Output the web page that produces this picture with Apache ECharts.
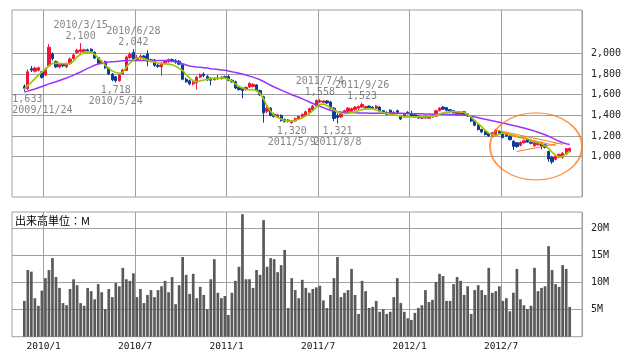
<!DOCTYPE html>
<html><head><meta charset="utf-8">
<script src="https://cdn.jsdelivr.net/npm/echarts@6/dist/echarts.min.js"></script>
<style>html,body{margin:0;padding:0;background:#fff}#c{width:638px;height:362px}</style>
</head><body><div id="c"></div>
<script>
// ---- data (weekly, first week = 2009/11/23) ----
const padBefore = 3, padAfter = 3;
const opens = [1680,1660,1852,1828,1838,1822,1790,1880,1995,1920,1868,1895,1870,1900,1950,2010,2020,2010,2035,2040,2010,1960,1905,1920,1860,1800,1775,1735,1800,1835,1960,2010,1940,1955,1975,1995,1925,1935,1885,1870,1905,1920,1940,1930,1925,1890,1750,1735,1705,1715,1770,1800,1775,1760,1745,1760,1755,1775,1775,1740,1725,1670,1660,1650,1675,1680,1695,1640,1580,1440,1470,1410,1385,1400,1360,1340,1330,1345,1365,1380,1400,1430,1455,1490,1530,1525,1540,1530,1470,1400,1385,1420,1440,1440,1455,1470,1480,1470,1490,1480,1468,1480,1445,1430,1450,1415,1445,1395,1385,1430,1420,1405,1395,1372,1390,1372,1385,1392,1445,1480,1475,1455,1445,1405,1410,1435,1415,1385,1350,1310,1265,1245,1225,1195,1215,1245,1228,1220,1195,1150,1135,1110,1135,1170,1140,1105,1115,1132,1115,1050,995,975,995,995,1025,1050];
const closes = [1662,1822,1838,1858,1860,1768,1850,2060,1950,1870,1895,1880,1895,1945,1985,2030,2035,2035,2025,2020,1955,1900,1925,1860,1800,1745,1735,1790,1840,1965,1990,1940,1960,1975,1950,1925,1940,1885,1875,1905,1925,1940,1925,1915,1895,1750,1725,1705,1720,1770,1795,1785,1745,1740,1760,1755,1770,1765,1740,1725,1665,1650,1640,1670,1710,1700,1640,1600,1425,1470,1400,1390,1405,1350,1340,1355,1345,1370,1390,1410,1435,1465,1490,1545,1540,1540,1520,1470,1370,1380,1425,1445,1470,1465,1480,1485,1505,1485,1475,1470,1490,1440,1425,1410,1430,1430,1430,1365,1415,1420,1395,1385,1375,1385,1375,1388,1395,1445,1468,1460,1450,1435,1425,1435,1430,1410,1395,1345,1305,1262,1240,1215,1200,1235,1258,1228,1185,1200,1165,1100,1098,1140,1155,1142,1130,1135,1130,1100,1090,978,950,1005,1022,1035,1078,1080];
const lows = [1633,1645,1820,1815,1826,1755,1782,1870,1930,1858,1855,1866,1858,1890,1940,1995,2005,2000,2005,2010,1945,1890,1895,1850,1790,1730,1718,1725,1790,1830,1945,1925,1925,1940,1940,1875,1915,1870,1860,1785,1895,1910,1915,1900,1885,1740,1715,1690,1690,1650,1760,1770,1735,1690,1738,1745,1748,1755,1730,1715,1655,1640,1565,1640,1665,1670,1630,1590,1330,1420,1390,1380,1375,1340,1330,1330,1320,1335,1360,1372,1390,1420,1440,1480,1520,1515,1510,1460,1345,1321,1375,1410,1430,1430,1445,1455,1470,1460,1465,1460,1460,1432,1415,1400,1420,1405,1420,1355,1378,1410,1388,1375,1365,1365,1368,1365,1378,1388,1440,1452,1440,1428,1418,1398,1400,1400,1385,1335,1295,1255,1230,1205,1192,1188,1208,1215,1178,1190,1158,1065,1088,1100,1128,1135,1120,1098,1108,1072,1080,952,930,965,985,980,1018,1042];
const highs = [1700,1845,1878,1870,1872,1832,1862,2090,2010,1930,1905,1905,1910,1960,2000,2045,2100,2045,2045,2050,2020,1965,1935,1930,1868,1810,1780,1800,1850,1980,2010,2042,1985,1990,1985,2030,1950,1945,1900,1915,1935,1950,1950,1945,1935,1895,1765,1745,1735,1780,1805,1815,1790,1770,1770,1790,1778,1785,1790,1750,1735,1685,1675,1680,1720,1712,1700,1650,1590,1490,1480,1425,1415,1410,1370,1365,1355,1378,1398,1418,1445,1475,1500,1552,1558,1548,1548,1540,1480,1420,1432,1455,1480,1475,1490,1495,1523,1492,1495,1488,1500,1490,1450,1438,1458,1440,1455,1405,1425,1440,1445,1415,1400,1392,1398,1395,1400,1450,1480,1490,1482,1462,1450,1440,1440,1442,1420,1390,1358,1318,1270,1252,1232,1240,1265,1252,1235,1228,1205,1158,1142,1148,1165,1178,1150,1142,1140,1145,1125,1058,1005,1012,1030,1042,1085,1088];
const ma13 = [1650,1690,1720,1755,1790,1820,1845,1880,1903,1905,1903,1900,1900,1902,1925,1965,1990,2012,2015,2010,1990,1955,1925,1885,1855,1830,1815,1808,1815,1870,1905,1935,1955,1960,1950,1935,1922,1915,1905,1900,1898,1896,1890,1875,1855,1835,1795,1760,1735,1725,1735,1742,1750,1755,1758,1758,1760,1760,1750,1730,1705,1680,1665,1650,1648,1650,1640,1610,1560,1490,1440,1400,1380,1365,1350,1345,1345,1352,1362,1378,1395,1415,1445,1480,1505,1510,1495,1475,1455,1435,1420,1418,1420,1428,1435,1445,1455,1462,1466,1462,1452,1440,1428,1418,1410,1405,1402,1392,1386,1385,1386,1386,1386,1386,1386,1388,1392,1400,1412,1425,1432,1436,1436,1435,1433,1428,1410,1385,1350,1320,1290,1255,1230,1212,1205,1215,1232,1228,1215,1208,1198,1190,1182,1172,1158,1148,1138,1125,1105,1080,1045,1015,998,1002,1025,1055];
const ma26 = [1625,1635,1645,1655,1668,1680,1692,1705,1715,1725,1738,1750,1762,1775,1790,1805,1820,1838,1855,1870,1885,1897,1905,1912,1917,1920,1922,1925,1928,1930,1932,1932,1932,1932,1932,1932,1932,1932,1930,1930,1930,1930,1925,1920,1912,1900,1888,1878,1872,1868,1865,1862,1858,1852,1848,1844,1840,1836,1830,1822,1815,1808,1800,1790,1780,1770,1758,1745,1728,1710,1692,1675,1660,1645,1630,1615,1600,1588,1575,1560,1545,1530,1515,1500,1488,1475,1462,1450,1442,1436,1432,1430,1428,1427,1425,1424,1423,1422,1421,1420,1420,1420,1420,1420,1420,1420,1420,1420,1418,1418,1417,1416,1415,1415,1414,1413,1412,1412,1410,1410,1410,1409,1408,1406,1404,1402,1398,1392,1386,1378,1370,1362,1355,1348,1340,1333,1325,1318,1310,1302,1294,1286,1278,1268,1258,1248,1236,1224,1212,1198,1182,1166,1150,1135,1125,1118];
const volumes = [6.6,12.3,12.0,7.1,5.7,8.5,10.8,12.3,14.5,11.0,9.0,6.2,5.8,8.8,10.6,9.5,6.2,5.7,9.0,8.4,6.9,9.7,8.2,5.1,8.8,7.3,9.9,9.3,12.7,10.6,10.3,11.7,7.3,8.8,6.2,7.7,8.6,7.3,8.6,9.3,10.3,8.2,11.0,6.0,9.5,14.7,11.4,7.9,11.6,7.1,9.2,7.7,5.1,10.6,14.3,8.1,7.1,7.5,4.0,8.1,10.3,12.9,22.6,10.6,10.6,9.0,12.3,11.4,21.5,12.9,14.5,14.3,11.9,13.2,16.0,5.3,10.8,8.6,7.1,10.5,9.0,8.1,8.8,9.1,9.4,6.7,5.3,7.7,10.8,14.7,7.3,8.1,8.6,12.5,7.7,4.2,10.3,8.4,5.3,5.5,6.6,4.6,5.1,4.2,4.6,7.3,10.8,6.2,4.6,3.4,3.1,4.4,5.3,5.8,8.6,6.4,6.8,10.1,11.6,11.2,6.6,6.6,9.7,11.0,10.3,7.7,9.3,4.2,8.6,9.5,8.6,7.7,12.7,8.1,8.4,9.3,6.6,7.1,4.7,8.1,12.5,6.9,5.8,5.1,5.7,12.7,8.4,9.0,9.3,16.7,12.3,9.7,9.2,13.2,12.5,5.5];
const priceTicks = [1000,1200,1400,1600,1800,2000];
const volumeTicks = [5,10,15,20];
const annoIndex = [0,16,26,31,76,84,89,96];
const annoValue = [1633,2100,1718,2042,1320,1558,1321,1523];
const annoDate = ['2009/11/24','2010/3/15','2010/5/24','2010/6/28','2011/5/9','2011/7/4','2011/8/8','2011/9/26'];
const annoSide = ['low','high','low','high','low','high','low','high'];
const triangleFrom = [[134,1258],[136,1222],[140,1050]];
const triangleTo = [[153,1120],[151,1108],[152,1130]];
const circleCenter = [145,1099];
const volumeTitle = '出来高単位：M';

// ---- categories: weekly Mondays ----
const nWeeks = opens.length;
const categories = [];
for (let k = -padBefore; k < nWeeks + padAfter; k++) {
  const d = new Date(2009, 10, 23 + 7 * k);
  categories.push(d.getFullYear() + '/' + (d.getMonth() + 1) + '/' + d.getDate());
}
const X = i => i + padBefore;
const isHalfYear = (idx, val) => { const p = val.split('/').map(Number); return (p[1] === 1 || p[1] === 7) && p[2] <= 7; };
const fmt = v => echarts.format.addCommas(v);

const candleData = opens.map((o, i) => [X(i), o, closes[i], lows[i], highs[i]]);
const ma13Data = ma13.map((v, i) => [X(i), v]);
const ma26Data = ma26.map((v, i) => [X(i), v]);
const volData = volumes.map((v, i) => [X(i), v]);
const annoData = annoIndex.map((idx, k) => {
  const high = annoSide[k] === 'high';
  const lab = {
    show: true,
    position: high ? 'top' : 'bottom',
    distance: high ? 0 : 1.5,
    formatter: high ? annoDate[k] + '\n' + fmt(annoValue[k]) : fmt(annoValue[k]) + '\n' + annoDate[k]
  };
  if (idx === 0) { lab.align = 'left'; lab.offset = [-12, 0]; }
  return { value: [X(idx), annoValue[k]], label: lab };
});

const mono = 'DejaVu Sans Mono';
const gridCol = '#a0a0a0';
const chart = echarts.init(document.getElementById('c'), null, { renderer: 'canvas' });
chart.setOption({
  animation: false,
  backgroundColor: '#fff',
  grid: [
    { left: 12, top: 10, width: 570, height: 187, show: true, borderColor: gridCol, borderWidth: 1, backgroundColor: 'transparent' },
    { left: 12, top: 212, width: 570, height: 124.7, show: true, borderColor: gridCol, borderWidth: 1, backgroundColor: 'transparent' }
  ],
  graphic: [{ type: 'text', left: 15, top: 215, style: { text: volumeTitle, fill: '#000', font: '11px "Noto Sans CJK JP"' } }],
  xAxis: [
    { type: 'category', gridIndex: 0, data: categories, boundaryGap: true,
      axisLine: { show: false }, axisTick: { show: false }, axisLabel: { show: false },
      splitLine: { show: true, interval: isHalfYear, lineStyle: { color: gridCol, width: 1 } } },
    { type: 'category', gridIndex: 1, data: categories, boundaryGap: true,
      axisLine: { show: false }, axisTick: { show: false },
      axisLabel: { show: true, interval: isHalfYear, margin: 5, color: '#111', fontFamily: mono, fontSize: 9.5,
        padding: [0, 3.5, 0, 0],
        formatter: v => { const p = v.split('/'); return p[0] + '/' + p[1]; } },
      splitLine: { show: true, interval: isHalfYear, lineStyle: { color: gridCol, width: 1 } } }
  ],
  yAxis: [
    { type: 'value', gridIndex: 0, position: 'right', min: 610, max: 2420, scale: true,
      axisLine: { show: false }, axisTick: { show: false, customValues: priceTicks },
      axisLabel: { show: true, customValues: priceTicks, margin: 9, color: '#222', fontFamily: mono, fontSize: 10 },
      splitLine: { show: true, lineStyle: { color: gridCol, width: 1 } } },
    { type: 'value', gridIndex: 1, position: 'right', min: 0, max: 23,
      axisLine: { show: false }, axisTick: { show: false, customValues: volumeTicks },
      axisLabel: { show: true, customValues: volumeTicks, margin: 9, color: '#222', fontFamily: mono, fontSize: 10, formatter: v => v + 'M' },
      splitLine: { show: true, lineStyle: { color: gridCol, width: 1 } } }
  ],
  series: [
    { type: 'candlestick', name: 'price', xAxisIndex: 0, yAxisIndex: 0, data: candleData,
      encode: { x: 0, y: [1, 2, 3, 4] }, barWidth: 2.8, z: 2,
      itemStyle: { color: '#f0143c', color0: '#0b3b9b', borderColor: '#f0143c', borderColor0: '#0b3b9b', borderWidth: 1 } },
    { type: 'line', name: 'ma26', xAxisIndex: 0, yAxisIndex: 0, data: ma26Data, showSymbol: false, z: 3,
      lineStyle: { color: '#9933ff', width: 1.5 }, itemStyle: { color: '#9933ff' } },
    { type: 'line', name: 'ma13', xAxisIndex: 0, yAxisIndex: 0, data: ma13Data, showSymbol: false, z: 3,
      lineStyle: { color: '#99cc00', width: 1.7 }, itemStyle: { color: '#99cc00' } },
    { type: 'scatter', name: 'anno', xAxisIndex: 0, yAxisIndex: 0, data: annoData, symbolSize: 2, z: 5,
      itemStyle: { color: 'rgba(255,255,255,0)' },
      label: { show: true, color: '#666', fontFamily: mono, fontSize: 10, lineHeight: 11 } },
    { type: 'scatter', name: 'circle', xAxisIndex: 0, yAxisIndex: 0, data: [[X(circleCenter[0]), circleCenter[1]]],
      symbol: 'circle', symbolSize: [92, 67], symbolOffset: [1.5, 0], z: 6, silent: true,
      itemStyle: { color: 'rgba(0,0,0,0)', borderColor: '#ff7a1a', borderWidth: 1.5 },
      markLine: { silent: true, symbol: ['none', 'none'], z: 6, label: { show: false },
        lineStyle: { color: '#ff7a1a', width: 1, type: 'solid' },
        data: triangleFrom.map((f, k) => [{ coord: [X(f[0]), f[1]] }, { coord: [X(triangleTo[k][0]), triangleTo[k][1]] }]) } },
    { type: 'bar', name: 'volume', xAxisIndex: 1, yAxisIndex: 1, data: volData, barWidth: 2.7,
      itemStyle: { color: '#5a5a5a' } }
  ]
});
</script></body></html>
